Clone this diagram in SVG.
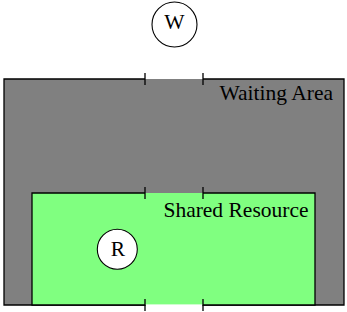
<svg xmlns="http://www.w3.org/2000/svg" width="347" height="312" viewBox="0 0 347 312">
<style>
.ln{stroke:#000;stroke-width:1.3;fill:none}
.lbl{font-family:"Liberation Serif","Times New Roman",serif;font-size:21.5px;fill:#000}
.node{fill:#fff;stroke:#000;stroke-width:1.1}
</style>
<rect width="347" height="312" fill="#fff"/>
<g id="waiting-area">
<rect x="4" y="79" width="340" height="226" fill="#808080"/>
<path class="ln" d="M145,79 H4 V305 H344 V79 H203"/>
<text class="lbl" x="333" y="99.5" text-anchor="end">Waiting Area</text>
</g>
<g id="shared-resource">
<rect x="32" y="193" width="283" height="112" fill="#80ff80"/>
<path class="ln" d="M145,193 H32 V305 H145 M203,305 H315 V193 H203"/>
<rect x="145.7" y="304.4" width="56.6" height="2" fill="#fff"/>
<text class="lbl" x="308.5" y="216.7" text-anchor="end">Shared Resource</text>
</g>
<g id="gates">
<path class="ln" d="M145,73 V85 M203,73 V85 M145,187 V199 M203,187 V199 M145,299 V311 M203,299 V311"/>
</g>
<g id="W">
<circle class="node" cx="174.5" cy="24.5" r="22.5"/>
<text class="lbl" x="174.5" y="29" text-anchor="middle">W</text>
</g>
<g id="R">
<circle class="node" cx="117.3" cy="249.3" r="20"/>
<text class="lbl" x="117.8" y="255.7" text-anchor="middle">R</text>
</g>
</svg>
